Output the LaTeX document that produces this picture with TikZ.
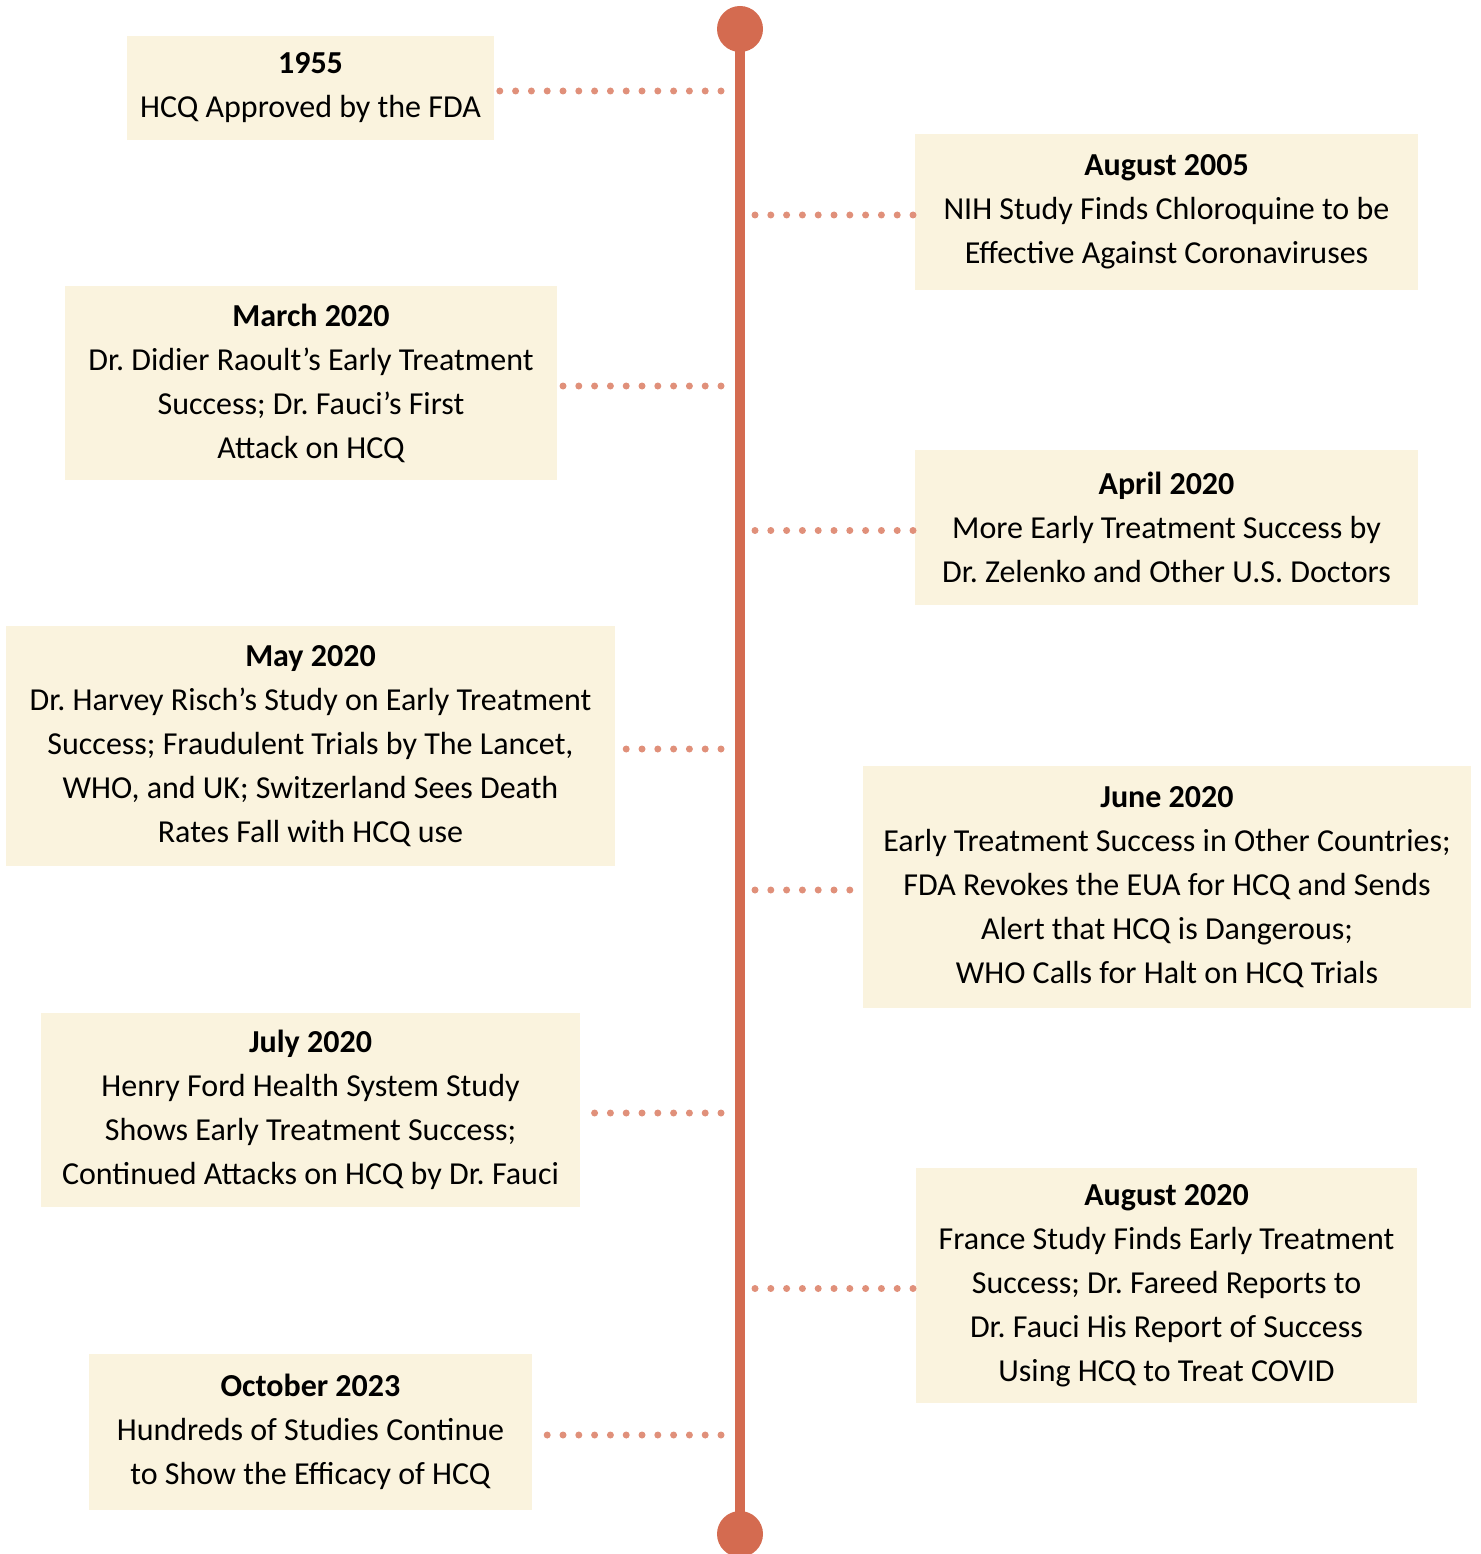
\documentclass[tikz,border=0pt]{standalone}
\usepackage{fontspec}
\setmainfont{Carlito}
\usepackage{xcolor}
\usepackage{tikz}
\usetikzlibrary{positioning}
\definecolor{tlLine}{HTML}{D46B50}
\definecolor{tlDot}{HTML}{E0907A}
\definecolor{tlBox}{HTML}{FAF3DE}
\frenchspacing

\begin{document}
\begin{tikzpicture}[x=1pt,y=-1pt,
    evbox/.style={fill=tlBox, inner sep=0pt, align=center, font=\fontsize{32}{44}\selectfont},
    dotline/.style={tlDot, line width=7pt, line cap=round, dash pattern=on 0pt off 15.8pt}]
    \useasboundingbox (0,0) rectangle (1480,1554);

    % Main timeline
    \node[circle, fill=tlLine, minimum size=46pt, inner sep=0pt] at (740,29) (top) {};
    \node[circle, fill=tlLine, minimum size=46pt, inner sep=0pt] at (740,1534) (bot) {};
    \draw[tlLine, line width=10pt] (top.center) -- (bot.center);
    \coordinate (lineL) at (721,0);
    \coordinate (lineR) at (755,0);

    % Left events
    \node[evbox, minimum width=367pt, minimum height=104pt] at (310.5,88) (y1955) {\textbf{1955}\\HCQ Approved by the FDA};
    \node[evbox, minimum width=492pt, minimum height=194pt] at (311,383) (mar20) {\textbf{March 2020}\\Dr. Didier Raoult’s Early Treatment\\Success; Dr. Fauci’s First\\Attack on HCQ};
    \node[evbox, minimum width=609pt, minimum height=240pt] at (310.5,746) (may20) {\textbf{May 2020}\\Dr. Harvey Risch’s Study on Early Treatment\\Success; Fraudulent Trials by The Lancet,\\WHO, and UK; Switzerland Sees Death\\Rates Fall with HCQ use};
    \node[evbox, minimum width=539pt, minimum height=194pt] at (310.5,1110) (jul20) {\textbf{July 2020}\\Henry Ford Health System Study\\Shows Early Treatment Success;\\Continued Attacks on HCQ by Dr. Fauci};
    \node[evbox, minimum width=443pt, minimum height=156pt] at (310.5,1432) (oct23) {\textbf{October 2023}\\Hundreds of Studies Continue\\to Show the Efficacy of HCQ};

    % Right events
    \node[evbox, minimum width=503pt, minimum height=156pt] at (1166.5,212) (aug05) {\textbf{August 2005}\\NIH Study Finds Chloroquine to be\\Effective Against Coronaviruses};
    \node[evbox, minimum width=503pt, minimum height=155pt] at (1166.5,527.5) (apr20) {\textbf{April 2020}\\More Early Treatment Success by\\Dr. Zelenko and Other U.S. Doctors};
    \node[evbox, minimum width=608pt, minimum height=242pt] at (1167,887) (jun20) {\textbf{June 2020}\\Early Treatment Success in Other Countries;\\FDA Revokes the EUA for HCQ and Sends\\Alert that HCQ is Dangerous;\\WHO Calls for Halt on HCQ Trials};
    \node[evbox, minimum width=501pt, minimum height=235pt] at (1166.5,1285.5) (aug20) {\textbf{August 2020}\\France Study Finds Early Treatment\\Success; Dr. Fareed Reports to\\Dr. Fauci His Report of Success\\Using HCQ to Treat COVID};

    % Dotted connectors
    \foreach \ev in {y1955,mar20,may20,jul20,oct23}
        \draw[dotline] ([yshift=-3pt]\ev.east -| lineL) -- ([xshift=2pt,yshift=-3pt]\ev.east);
    \foreach \ev in {aug05,apr20,jun20,aug20}
        \draw[dotline] ([yshift=-3pt]\ev.west -| lineR) -- ([xshift=1pt,yshift=-3pt]\ev.west);
\end{tikzpicture}
\end{document}
